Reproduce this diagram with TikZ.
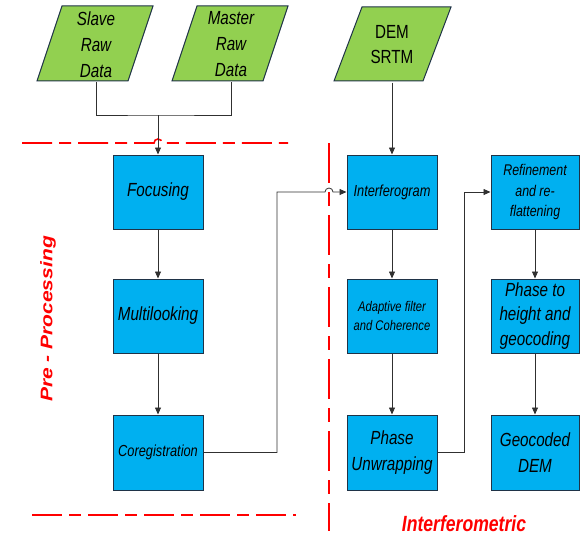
\documentclass[tikz,border=0pt]{standalone}
\usepackage{fontspec}
\setmainfont{Liberation Sans}[FakeStretch=0.8]
\newfontfamily\plainfont{Liberation Sans}
\usetikzlibrary{arrows.meta}
\definecolor{boxblue}{HTML}{00B0F0}
\definecolor{boxgreen}{HTML}{92D050}
\definecolor{edgec}{HTML}{1F3347}
\definecolor{connc}{HTML}{303030}
\definecolor{redl}{HTML}{FF0000}
\begin{document}
\begin{tikzpicture}[x=1pt,y=-1pt,
  procbox/.style={draw=edgec, fill=boxblue, line width=1pt, minimum width=90pt, minimum height=74pt, inner sep=1pt, align=center, text=black, font=\itshape\fontsize{19}{24.5}\selectfont},
  iobox/.style={minimum width=91pt, minimum height=75pt, inner sep=0pt, align=center, text=black, font=\itshape\fontsize{19}{26}\selectfont},
  pgram/.style={fill=boxgreen, draw=edgec, line width=1pt},
  conline/.style={draw=connc, line width=0.8pt},
  arr/.style={conline, -{Triangle[length=7pt,width=6pt]}},
  sepline/.style={draw=redl, line width=1.6pt, dash pattern=on 30pt off 7pt on 12pt off 7pt},
  vsepline/.style={draw=redl, line width=1.6pt, dash pattern=on 40pt off 9pt on 14pt off 9pt},
  redtext/.style={text=redl}
  ]
\useasboundingbox (0,0) rectangle (581,535);

% input parallelograms
\path[pgram] (37,81) -- (128,81) -- (153,6) -- (62,6) -- cycle;
\path[pgram] (172,81) -- (263,81) -- (288,6) -- (197,6) -- cycle;
\path[pgram] (334,81) -- (423,81) -- (451,7) -- (362,7) -- cycle;
\node[iobox] (slave) at (96,44.5) {Slave\\Raw\\Data};
\node[iobox] (master) at (231,44.5) {Master\\Raw\\Data};
\node[iobox, font=\fontsize{19}{25}\selectfont] (dem) at (392,45) {DEM\\SRTM};

% processing boxes
\node[procbox] (focus) at (158,192) {Focusing};
\node[procbox] (multi) at (158,316) {Multilooking};
\node[procbox, minimum height=75pt, font=\itshape\fontsize{16}{20}\selectfont] (coreg) at (158,452.5) {Coregistration};
\node[procbox, font=\itshape\fontsize{16}{20}\selectfont] (interf) at (392,192) {Interferogram};
\node[procbox, font=\itshape\fontsize{14}{19}\selectfont] (adapt) at (392,316) {Adaptive filter\\and Coherence};
\node[procbox, minimum height=75pt, font=\itshape\fontsize{19}{26}\selectfont] (unwrap) at (392,452.5) {Phase\\Unwrapping};
\node[procbox, minimum width=88pt, font=\itshape\fontsize{15.5}{20.5}\selectfont] (refine) at (535,192) {Refinement\\and re-\\flattening};
\node[procbox, minimum width=88pt] (p2h) at (535,316) {Phase to\\height and\\geocoding};
\node[procbox, minimum width=88pt, minimum height=75pt, font=\itshape\fontsize{19}{26}\selectfont] (geo) at (535,452.5) {Geocoded\\DEM};

% separators
\path[sepline] (22,143) -- (154,143) arc[start angle=180, end angle=0, radius=4pt] -- (288,143);
\path[sepline] (32,515) -- (296,515);
\path[vsepline] (329,143) -- (329,531);

% labels
\node[redtext, font=\plainfont\bfseries\itshape\fontsize{21}{21}\selectfont] (pre) at (48,319) {\scalebox{0.8}[1]{\rotatebox{90}{Pre - Processing}}};
\node[redtext, font=\bfseries\itshape\fontsize{22}{22}\selectfont] (interlab) at (464,524) {Interferometric};

% connectors
\coordinate (jn) at (158,115);
\draw[conline] (slave.south) |- (jn) -| (master.south);
\draw[arr] (jn) -- (focus.north);
\draw[arr] (focus.south) -- (multi.north);
\draw[arr] (multi.south) -- (coreg.north);
\draw[arr] (coreg.east) -- (277,452.5) -- (277,192) -- (325,192) arc[start angle=180, end angle=0, radius=4pt] -- (interf.west);
\draw[arr] (dem.south) -- (interf.north);
\draw[arr] (interf.south) -- (adapt.north);
\draw[arr] (adapt.south) -- (unwrap.north);
\draw[arr] (unwrap.east) -- (464,452.5) -- (464,192) -- (refine.west);
\draw[arr] (refine.south) -- (p2h.north);
\draw[arr] (p2h.south) -- (geo.north);
\end{tikzpicture}
\end{document}
